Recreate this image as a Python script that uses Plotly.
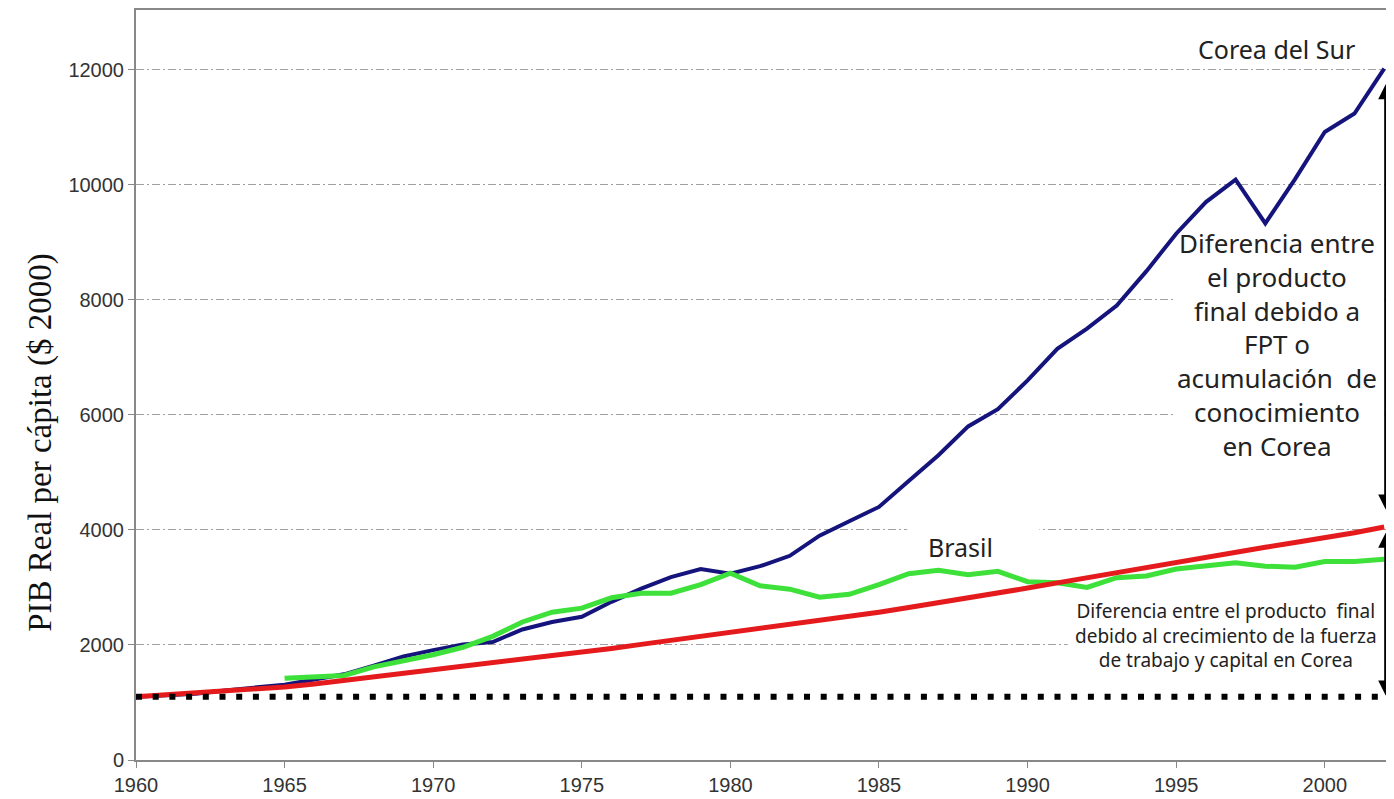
import plotly.graph_objects as go

# Años
anios = list(range(1960, 2003))
anios_brasil = list(range(1965, 2003))

# PIB real per cápita, Corea del Sur
corea = [1100, 1120, 1150, 1210, 1260, 1310, 1400, 1490, 1640, 1800,
         1910, 2010, 2050, 2270, 2400, 2490, 2750, 2980, 3180, 3320,
         3240, 3370, 3550, 3900, 4150, 4400, 4850, 5300, 5800, 6100,
         6600, 7150, 7500, 7900, 8500, 9150, 9700, 10090, 9330, 10100,
         10920, 11240, 12020]

# PIB real per cápita, Brasil
brasil = [1420, 1440, 1470, 1620, 1720, 1830, 1960, 2150, 2400, 2570,
          2640, 2820, 2900, 2900, 3050, 3250, 3030, 2970, 2830, 2880,
          3050, 3240, 3300, 3220, 3280, 3100, 3080, 3000, 3170, 3200,
          3320, 3370, 3430, 3370, 3350, 3450, 3450, 3490]

# Producto debido al crecimiento de trabajo y capital en Corea
trabajo_capital = [1100, 1130, 1165, 1200, 1235, 1270, 1320, 1380, 1440, 1500,
                   1560, 1620, 1680, 1740, 1805, 1870, 1940, 2010, 2080, 2150,
                   2210, 2270, 2340, 2410, 2490, 2570, 2650, 2730, 2810, 2900,
                   2990, 3080, 3170, 3260, 3360, 3450, 3540, 3620, 3700, 3780,
                   3860, 3950, 4050]

# Nivel inicial
nivel_inicial = [1100] * len(anios)

ticks_x = [1960, 1965, 1970, 1975, 1980, 1985, 1990, 1995, 2000]
ticks_y = [0, 2000, 4000, 6000, 8000, 10000, 12000]

fig = go.Figure()
fig.add_trace(go.Scatter(x=anios, y=corea, mode='lines',
                         line=dict(color='#14147c', width=4)))
fig.add_trace(go.Scatter(x=anios_brasil, y=brasil, mode='lines',
                         line=dict(color='#3ee03a', width=5)))
fig.add_trace(go.Scatter(x=anios, y=trabajo_capital, mode='lines',
                         line=dict(color='#e41a1c', width=5)))
fig.add_trace(go.Scatter(x=anios, y=nivel_inicial, mode='lines',
                         line=dict(color='black', width=6, dash='6px,10.7px')))

# huecos blancos en la rejilla detrás de los textos (debajo de las líneas)
for x0, x1, y0, y1 in [(1994.95, 2001.95, 5000, 9300),
                       (1985.95, 1990.4, 3700, 4300),
                       (1991.35, 2002.4, 1800, 2200)]:
    fig.add_shape(type='rect', x0=x0, x1=x1, y0=y0, y1=y1, xref='x', yref='y',
                  fillcolor='white', line=dict(width=0), layer='between')

texto = dict(family='Noto Sans', color='#222222')

anotaciones = [
    dict(x=1998.37, y=12000, text='Corea del Sur', yshift=21,
         font=dict(size=25, **texto)),
    dict(x=1987.73, y=4000, text='Brasil', yshift=-17,
         font=dict(size=25, **texto)),
    dict(x=1998.4, y=7230, text='Diferencia entre<br>el producto<br>final debido a<br>FPT o<br>'
                               'acumulación  de<br>conocimiento<br>en Corea',
         font=dict(size=26, **texto)),
    dict(x=1996.68, y=2168, text='Diferencia entre el producto  final<br>debido al crecimiento de la fuerza'
                                '<br>de trabajo y capital en Corea',
         font=dict(size=19, **texto)),
    # título del eje y
    dict(xref='paper', yref='paper', x=-0.0755, y=0.423, xanchor='center', yanchor='middle',
         text='PIB Real per cápita ($ 2000)', textangle=-90,
         font=dict(family='Liberation Serif', size=33, color='#111111')),
]
for a in anotaciones:
    a.setdefault('showarrow', False)
    fig.add_annotation(**a)

# flechas dobles
for y0, y1 in [(11750, 4330), (3950, 1095)]:
    fig.add_annotation(x=2002.05, y=y0, ax=2002.05, ay=y1, xref='x', yref='y',
                       axref='x', ayref='y', text='', showarrow=True,
                       arrowhead=2, arrowsize=1, arrowwidth=3, arrowcolor='black',
                       arrowside='end+start')

# la página tiene 8px de margen en el body
fig.update_layout(
    width=1386, height=791,
    margin=dict(l=128, r=0, t=0, b=39),
    plot_bgcolor='white', paper_bgcolor='white',
    showlegend=False,
    font=dict(family='Liberation Sans', size=20, color='#333333'),
)
fig.update_xaxes(range=[1960, 2002.33], tickvals=ticks_x, showgrid=False, zeroline=False,
                 showline=True, linecolor='#888888', linewidth=2, mirror=True,
                 ticks='outside', ticklen=6, tickcolor='#888888')
fig.update_yaxes(range=[0, 13040], tickvals=ticks_y, tickformat='d', zeroline=False,
                 showgrid=True, gridcolor='#a0a0a0', gridwidth=1, griddash='8px,3px,2px,3px',
                 showline=True, linecolor='#888888', linewidth=2,
                 ticks='outside', ticklen=6, tickcolor='#888888')

fig.write_html("out.html")
